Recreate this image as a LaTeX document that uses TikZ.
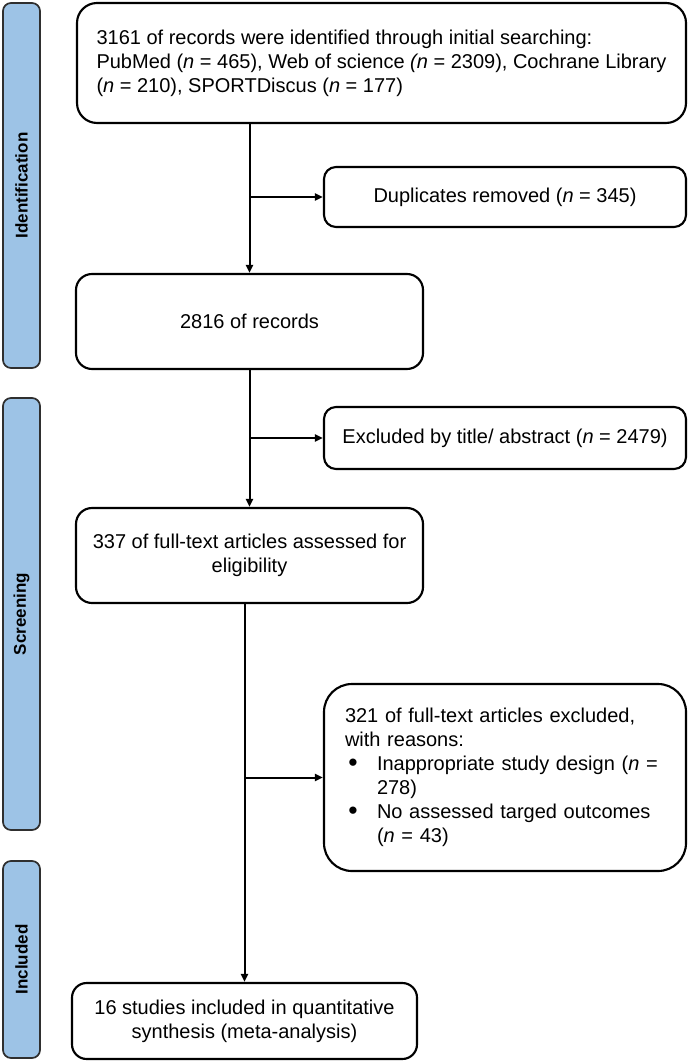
\documentclass[tikz,border=0pt]{standalone}
\usepackage{fontspec}
\setmainfont{Liberation Sans}
\usetikzlibrary{arrows.meta}

\definecolor{sidebarblue}{HTML}{9DC3E6}
\definecolor{sideline}{HTML}{2F2F2F}
\newcommand{\bul}{\makebox[24pt][l]{\hspace*{2.5pt}\raisebox{-0.8pt}{\fontsize{20pt}{18pt}\selectfont •}}}

\tikzset{
  box/.style={draw, line width=1.6pt, rounded corners=12pt, fill=white, font=\fontsize{15pt}{18pt}\selectfont},
  sidebar/.style={draw=sideline, line width=1.3pt, fill=sidebarblue, rounded corners=6pt, rotate=90, minimum height=27.75pt, inner sep=0pt, font=\bfseries\fontsize{12.75pt}{15pt}\selectfont},
  flow/.style={line width=1.5pt, -{Triangle[length=6pt,width=5.25pt]}}
}

\begin{document}
\begin{tikzpicture}[x=0.75pt,y=0.75pt,yscale=-1,xscale=1]
\path[use as bounding box] (0,0) rectangle (688,1062);

%Side bars
\node[sidebar, minimum width=273.75pt] (ident) at (21.5,185.5) {Identification};
\node[sidebar, minimum width=324pt] (screen) at (21.5,614) {Screening};
\node[sidebar, minimum width=147.75pt] (incl) at (21.5,959.5) {Included};

%Boxes
\node[box, rounded corners=15pt, align=left, inner xsep=12.75pt, minimum width=456.75pt, minimum height=90pt] (search) at (381.5,63) {3161 of records were identified through initial searching:\\PubMed (\textit{n} = 465), Web of science \textit{(n} = 2309), Cochrane Library\\(\textit{n} = 210), SPORTDiscus (\textit{n} = 177)};
\node[box, rounded corners=9pt, minimum width=271.5pt, minimum height=45pt] (dupl) at (505,197) {Duplicates removed (\textit{n} = 345)};
\node[box, minimum width=260.25pt, minimum height=71.25pt] (records) at (249.5,321.5) {2816 of records};
\node[box, rounded corners=9pt, minimum width=271.5pt, minimum height=46.5pt] (titleabs) at (505,438) {Excluded by title/ abstract (\textit{n} = 2479)};
\node[box, align=center, minimum width=260.25pt, minimum height=71.25pt] (fulltext) at (249.5,555.5) {337 of full-text articles assessed for\\eligibility};
\node[box, rounded corners=21pt, align=left, text width=240pt, inner xsep=15.75pt, minimum height=140.25pt] (reasons) at (505,777.5) {321 of full-text articles excluded,\\with reasons:\\\bul Inappropriate study design (\textit{n} =\\\hspace*{24pt}278)\\\bul No assessed targed outcomes\\\hspace*{24pt}(\textit{n} = 43)};
\node[box, rounded corners=11pt, align=center, minimum width=258.75pt, minimum height=57pt] (included) at (244.5,1021) {16 studies included in quantitative\\synthesis (meta-analysis)};

%Straight Lines
\draw[flow] (search.south -| records.north) -- (records.north);
\draw[flow] (records.north |- dupl.west) -- (dupl.west);
\draw[flow] (records.south) -- (fulltext.north);
\draw[flow] (records.south |- titleabs.west) -- (titleabs.west);
\draw[flow] (fulltext.south -| included.north) -- (included.north);
\draw[flow] (included.north |- reasons.west) -- (reasons.west);

\end{tikzpicture}
\end{document}
